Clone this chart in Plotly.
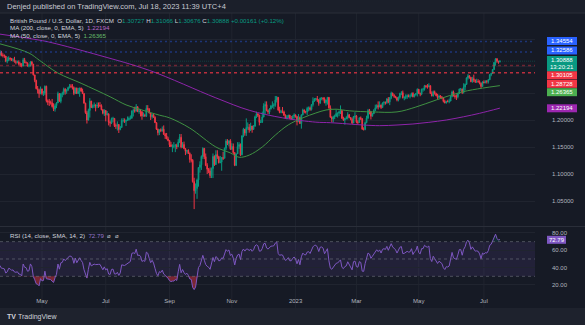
import numpy as np
import pandas as pd
import plotly.graph_objects as go

# ---------------- data (GBP/USD daily, FXCM) ----------------
start_date = "2022-02-28"
end_date = "2023-07-18"
first_open = 1.3405

closes = [
 1.3415,1.3285,1.3390,1.3345,1.3230, 1.3115,1.3165,1.3185,1.3095,1.3035,
 1.3035,1.3040,1.3145,1.3170,1.3180, 1.3200,1.3255,1.3200,1.3195,1.3185,
 1.3090,1.3105,1.3150,1.3140,1.3110, 1.3115,1.3075,1.3070,1.3075,1.3035,
 1.3030,1.3000,1.3115,1.3065,1.3060, 1.3000,1.3005,1.3075,1.3035,1.2835,
 1.2735,1.2580,1.2555,1.2485,1.2575, 1.2490,1.2495,1.2625,1.2355,1.2335,
 1.2330,1.2320,1.2250,1.2200,1.2265, 1.2315,1.2490,1.2345,1.2480,1.2490,
 1.2570,1.2530,1.2560,1.2600,1.2630, 1.2625,1.2600,1.2490,1.2590,1.2490,
 1.2530,1.2590,1.2535,1.2490,1.2310, 1.2135,1.2000,1.2175,1.2350,1.2230,
 1.2265,1.2275,1.2260,1.2270,1.2265, 1.2265,1.2190,1.2125,1.2175,1.2095,
 1.2115,1.1960,1.1945,1.2025,1.2030, 1.1895,1.1890,1.1915,1.1825,1.1860,
 1.1990,1.1990,1.1975,1.1990,1.2005, 1.2030,1.2035,1.2165,1.2175,1.2165,
 1.2245,1.2160,1.2165,1.2150,1.2075, 1.2085,1.2075,1.2215,1.2200,1.2130,
 1.2060,1.2095,1.2050,1.1950,1.1830, 1.1765,1.1820,1.1800,1.1830,1.1735,
 1.1705,1.1650,1.1620,1.1540,1.1510, 1.1515,1.1515,1.1530,1.1505,1.1590,
 1.1680,1.1500,1.1545,1.1470,1.1420, 1.1435,1.1380,1.1270,1.1255,1.0860,
 1.0690,1.0730,1.0890,1.1120,1.1170, 1.1325,1.1475,1.1320,1.1160,1.1090,
 1.1055,1.0970,1.1100,1.1325,1.1175, 1.1360,1.1320,1.1210,1.1220,1.1305,
 1.1290,1.1475,1.1610,1.1565,1.1615, 1.1465,1.1510,1.1395,1.1160,1.1375,
 1.1510,1.1545,1.1355,1.1705,1.1830, 1.1760,1.1860,1.1865,1.1815,1.1890,
 1.1825,1.1885,1.2060,1.2115,1.2090, 1.1955,1.1960,1.2055,1.2260,1.2285,
 1.2175,1.2150,1.2205,1.2260,1.2265, 1.2275,1.2370,1.2420,1.2185,1.2140,
 1.2155,1.2150,1.2085,1.2030,1.2050, 1.2090,1.2025,1.2025,1.2070,1.2095,
 1.2060,1.1970,1.2045,1.1935,1.2095, 1.2185,1.2155,1.2150,1.2215,1.2225,
 1.2195,1.2285,1.2350,1.2390,1.2395, 1.2370,1.2310,1.2405,1.2410,1.2395,
 1.2320,1.2370,1.2420,1.2225,1.2050, 1.2020,1.2055,1.2070,1.2120,1.2125,
 1.2150,1.2175,1.2030,1.2000,1.2030, 1.2040,1.2100,1.2045,1.2015,1.1945,
 1.2065,1.2075,1.1965,1.1955,1.2040, 1.2025,1.1830,1.1825,1.1950,1.2035,
 1.2175,1.2155,1.2070,1.2115,1.2175, 1.2225,1.2270,1.2240,1.2280,1.2230,
 1.2315,1.2330,1.2320,1.2390,1.2335, 1.2415,1.2500,1.2455,1.2440,1.2415,
 1.2370,1.2420,1.2490,1.2505,1.2410, 1.2415,1.2430,1.2450,1.2440,1.2445,
 1.2495,1.2430,1.2470,1.2490,1.2570, 1.2495,1.2480,1.2570,1.2570,1.2635,
 1.2620,1.2615,1.2635,1.2490,1.2445, 1.2525,1.2490,1.2450,1.2415,1.2445,
 1.2420,1.2410,1.2345,1.2315,1.2345, 1.2340,1.2350,1.2435,1.2520,1.2450,
 1.2435,1.2430,1.2490,1.2575,1.2575, 1.2510,1.2610,1.2660,1.2780,1.2820,
 1.2790,1.2710,1.2765,1.2740,1.2710, 1.2715,1.2710,1.2680,1.2620,1.2705,
 1.2690,1.2715,1.2710,1.2745,1.2840, 1.2860,1.2935,1.3065,1.3135,1.3090,
 1.30727,1.30888,
]

highs = [
 1.3440,1.3435,1.3400,1.3435,1.3355, 1.3240,1.3185,1.3200,1.3190,1.3120,
 1.3120,1.3065,1.3155,1.3215,1.3200, 1.3210,1.3295,1.3280,1.3235,1.3215,
 1.3185,1.3170,1.3180,1.3155,1.3145, 1.3145,1.3170,1.3105,1.3100,1.3105,
 1.3065,1.3055,1.3150,1.3150,1.3085, 1.3060,1.3035,1.3090,1.3095,1.3035,
 1.2830,1.2745,1.2630,1.2580,1.2620, 1.2580,1.2540,1.2640,1.2635,1.2380,
 1.2390,1.2360,1.2390,1.2310,1.2300, 1.2330,1.2525,1.2495,1.2500,1.2525,
 1.2600,1.2590,1.2565,1.2615,1.2665, 1.2665,1.2665,1.2620,1.2600,1.2600,
 1.2595,1.2600,1.2600,1.2580,1.2495, 1.2320,1.2170,1.2210,1.2405,1.2355,
 1.2290,1.2325,1.2290,1.2325,1.2325, 1.2330,1.2290,1.2200,1.2200,1.2125,
 1.2165,1.2110,1.1990,1.2045,1.2060, 1.2030,1.1935,1.1975,1.1925,1.1890,
 1.2030,1.2035,1.2030,1.2010,1.2065, 1.2065,1.2085,1.2180,1.2215,1.2245,
 1.2295,1.2255,1.2210,1.2205,1.2165, 1.2140,1.2115,1.2275,1.2275,1.2220,
 1.2120,1.2115,1.2120,1.2070,1.1960, 1.1840,1.1825,1.1845,1.1880,1.1900,
 1.1760,1.1760,1.1690,1.1625,1.1595, 1.1550,1.1590,1.1555,1.1560,1.1645,
 1.1740,1.1740,1.1590,1.1600,1.1455, 1.1445,1.1460,1.1400,1.1365,1.1275,
 1.0930,1.0825,1.0915,1.1125,1.1235, 1.1345,1.1495,1.1480,1.1380,1.1200,
 1.1110,1.1120,1.1120,1.1380,1.1345, 1.1440,1.1440,1.1335,1.1335,1.1310,
 1.1410,1.1490,1.1645,1.1645,1.1625, 1.1645,1.1570,1.1565,1.1405,1.1375,
 1.1590,1.1590,1.1565,1.1720,1.1855, 1.1830,1.2030,1.1955,1.1925,1.1950,
 1.1880,1.1905,1.2080,1.2155,1.2125, 1.2095,1.2005,1.2155,1.2310,1.2345,
 1.2345,1.2195,1.2220,1.2280,1.2345, 1.2310,1.2445,1.2445,1.2425,1.2245,
 1.2190,1.2240,1.2175,1.2105,1.2090, 1.2095,1.2095,1.2075,1.2085,1.2125,
 1.2100,1.2075,1.2110,1.2065,1.2105, 1.2210,1.2195,1.2170,1.2245,1.2250,
 1.2250,1.2290,1.2420,1.2405,1.2410, 1.2445,1.2385,1.2415,1.2415,1.2420,
 1.2420,1.2375,1.2425,1.2420,1.2270, 1.2070,1.2080,1.2100,1.2195,1.2140,
 1.2175,1.2270,1.2175,1.2060,1.2040, 1.2070,1.2145,1.2100,1.2055,1.2045,
 1.2075,1.2145,1.2090,1.1995,1.2050, 1.2065,1.2030,1.1865,1.1970,1.2080,
 1.2205,1.2205,1.2150,1.2130,1.2200, 1.2285,1.2290,1.2345,1.2345,1.2285,
 1.2325,1.2345,1.2340,1.2405,1.2425, 1.2425,1.2525,1.2505,1.2480,1.2445,
 1.2425,1.2435,1.2505,1.2535,1.2545, 1.2440,1.2475,1.2475,1.2475,1.2475,
 1.2505,1.2515,1.2480,1.2490,1.2585, 1.2570,1.2505,1.2580,1.2595,1.2650,
 1.2640,1.2665,1.2680,1.2625,1.2530, 1.2545,1.2545,1.2505,1.2485,1.2470,
 1.2460,1.2445,1.2425,1.2375,1.2355, 1.2375,1.2395,1.2445,1.2545,1.2545,
 1.2470,1.2475,1.2500,1.2580,1.2590, 1.2580,1.2680,1.2675,1.2790,1.2850,
 1.2830,1.2795,1.2800,1.2840,1.2750, 1.2765,1.2755,1.2735,1.2690,1.2715,
 1.2735,1.2735,1.2740,1.2760,1.2850, 1.2875,1.2945,1.3075,1.3145,1.3144,
 1.3095,1.31066,
]

lows = [
 1.3350,1.3270,1.3270,1.3330,1.3200, 1.3085,1.3090,1.3110,1.3085,1.3000,
 1.3005,1.3000,1.3030,1.3110,1.3105, 1.3140,1.3180,1.3180,1.3160,1.3150,
 1.3070,1.3050,1.3090,1.3100,1.3090, 1.3085,1.3065,1.3030,1.3050,1.3020,
 1.2985,1.2975,1.2995,1.3050,1.3045, 1.2990,1.2975,1.2990,1.3020,1.2825,
 1.2700,1.2570,1.2490,1.2410,1.2480, 1.2460,1.2445,1.2460,1.2325,1.2275,
 1.2260,1.2285,1.2230,1.2165,1.2155, 1.2220,1.2315,1.2340,1.2310,1.2420,
 1.2460,1.2470,1.2485,1.2535,1.2585, 1.2590,1.2565,1.2460,1.2485,1.2480,
 1.2480,1.2430,1.2520,1.2480,1.2305, 1.2115,1.1935,1.1990,1.2045,1.2225,
 1.2215,1.2225,1.2160,1.2220,1.2225, 1.2245,1.2180,1.2105,1.2075,1.1975,
 1.2085,1.1900,1.1875,1.1925,1.1960, 1.1870,1.1835,1.1805,1.1760,1.1810,
 1.1860,1.1955,1.1945,1.1890,1.1985, 1.1990,1.2005,1.2020,1.2065,1.2135,
 1.2155,1.2145,1.2115,1.2065,1.2005, 1.2060,1.2060,1.2055,1.2170,1.2120,
 1.2000,1.2025,1.2040,1.1945,1.1815, 1.1715,1.1720,1.1780,1.1785,1.1725,
 1.1650,1.1645,1.1605,1.1500,1.1500, 1.1405,1.1475,1.1405,1.1460,1.1510,
 1.1575,1.1475,1.1485,1.1460,1.1350, 1.1375,1.1370,1.1210,1.1215,1.0840,
 1.0350,1.0635,1.0540,1.0765,1.1025, 1.1075,1.1280,1.1275,1.1145,1.1000,
 1.1015,1.0925,1.0925,1.0925,1.1150, 1.1170,1.1280,1.1195,1.1200,1.1060,
 1.1260,1.1290,1.1440,1.1535,1.1510, 1.1445,1.1445,1.1370,1.1145,1.1150,
 1.1385,1.1465,1.1335,1.1345,1.1680, 1.1710,1.1705,1.1820,1.1765,1.1795,
 1.1765,1.1820,1.1875,1.2035,1.2055, 1.1900,1.1945,1.1945,1.2050,1.2110,
 1.2160,1.2110,1.2105,1.2195,1.2225, 1.2200,1.2245,1.2325,1.2170,1.2125,
 1.2125,1.2125,1.2085,1.2025,1.2010, 1.2045,1.2020,1.2005,1.2005,1.2025,
 1.2045,1.1900,1.1960,1.1925,1.1840, 1.2085,1.2125,1.2120,1.2090,1.2160,
 1.2170,1.2175,1.2250,1.2335,1.2355, 1.2335,1.2265,1.2305,1.2365,1.2360,
 1.2310,1.2265,1.2285,1.2210,1.2045, 1.1960,1.1955,1.2015,1.2060,1.2045,
 1.2070,1.2110,1.2025,1.1985,1.1915, 1.2010,1.2010,1.2035,1.1995,1.1925,
 1.1950,1.2025,1.1940,1.1925,1.1945, 1.2000,1.1820,1.1805,1.1810,1.1940,
 1.2015,1.2105,1.2010,1.2065,1.2110, 1.2165,1.2210,1.2195,1.2250,1.2205,
 1.2235,1.2270,1.2285,1.2300,1.2310, 1.2275,1.2385,1.2440,1.2410,1.2400,
 1.2345,1.2345,1.2395,1.2460,1.2400, 1.2365,1.2385,1.2390,1.2420,1.2400,
 1.2435,1.2420,1.2420,1.2450,1.2435, 1.2480,1.2440,1.2460,1.2525,1.2545,
 1.2595,1.2580,1.2605,1.2485,1.2440, 1.2435,1.2470,1.2440,1.2390,1.2395,
 1.2410,1.2385,1.2325,1.2310,1.2305, 1.2330,1.2310,1.2370,1.2420,1.2435,
 1.2395,1.2370,1.2400,1.2480,1.2535, 1.2480,1.2490,1.2550,1.2650,1.2750,
 1.2765,1.2700,1.2690,1.2700,1.2685, 1.2685,1.2690,1.2660,1.2590,1.2615,
 1.2680,1.2680,1.2675,1.2675,1.2740, 1.2810,1.2855,1.2925,1.3005,1.3060,
 1.3040,1.30676,
]

ma200_dates = ["2022-03-22","2022-04-28","2022-05-11","2022-06-27","2022-08-12",
               "2022-10-17","2022-11-17","2022-12-20","2023-01-20","2023-02-03",
               "2023-03-08","2023-03-23","2023-04-10","2023-04-25","2023-05-10",
               "2023-05-26","2023-06-13","2023-06-28","2023-07-18"]
ma200_vals = [1.3590,1.3480,1.3430,1.3194,1.2920,
              1.2410,1.2180,1.2040,1.1960,1.1950,
              1.1907,1.1895,1.1907,1.1926,1.1957,
              1.2000,1.2060,1.2124,1.22194]

ma50_dates = ["2022-03-22","2022-04-19","2022-04-28","2022-05-17","2022-06-08",
              "2022-07-06","2022-07-21","2022-08-05","2022-08-23","2022-09-01",
              "2022-09-21","2022-10-17","2022-10-31","2022-11-08","2022-11-17",
              "2022-11-30","2022-12-13","2022-12-26","2023-01-09","2023-01-20",
              "2023-01-31","2023-02-09","2023-02-22","2023-03-16","2023-04-10",
              "2023-04-27","2023-05-17","2023-06-12","2023-06-30","2023-07-18"]
ma50_vals = [1.3410,1.3240,1.3110,1.2870,1.2680,
             1.2430,1.2280,1.2185,1.2090,1.2040,
             1.1850,1.1500,1.1390,1.1310,1.1350,
             1.1500,1.1720,1.1910,1.2040,1.2130,
             1.2185,1.2200,1.2170,1.2150,1.2150,
             1.2240,1.2370,1.2520,1.2590,1.26365]

rsi_last_label = 72.79
countdown_label = "13:20:21"

drawn_levels_blue = [1.34554, 1.32586]
drawn_levels_red = [1.30105, 1.28728]

month_labels = [("2022-05","May"),("2022-07","Jul"),("2022-09","Sep"),("2022-11","Nov"),
                ("2023-01","2023"),("2023-03","Mar"),("2023-05","May"),("2023-07","Jul")]
price_ticks = [1.05, 1.10, 1.15, 1.20, 1.25, 1.30, 1.35]
price_tick_text = ["1.05000", "1.10000", "1.15000", "1.20000", "", "", ""]
rsi_ticks = [20, 40, 60, 80]
rsi_tick_text = ["20.00", "40.00", "60.00", "80.00"]

# ---------------- derived ----------------
dates = pd.bdate_range(start_date, end_date)
assert len(dates) == len(closes) == len(highs) == len(lows), (len(dates), len(closes), len(highs), len(lows))
idx = np.arange(len(dates))
opens = [first_open] + closes[:-1]

def to_idx(ds):
    return [int(dates.get_indexer([pd.Timestamp(d)], method="bfill")[0]) for d in ds]

# RSI(14) Wilder
c = np.array(closes)
d = np.diff(c)
up = np.where(d > 0, d, 0.0)
dn = np.where(d < 0, -d, 0.0)
n = 14
rsi = np.full(len(c), np.nan)
au, ad = up[:n].mean(), dn[:n].mean()
rsi[n] = 100 - 100 / (1 + au / ad)
for i in range(n + 1, len(c)):
    au = (au * (n - 1) + up[i - 1]) / n
    ad = (ad * (n - 1) + dn[i - 1]) / n
    rsi[i] = 100 - 100 / (1 + au / ad)

tickvals = []
for ym, _ in month_labels:
    m = np.where(dates.strftime("%Y-%m") == ym)[0]
    tickvals.append(int(m[0]))
ticktext = [t for _, t in month_labels]

# ---------------- layout geometry ----------------
W, H = 585, 325
def py(ypx):
    return (H - ypx) / H
BAR_PX = 1.449
x_plot_right = 535
x_lo = tickvals[0] - 42 / BAR_PX
x_hi = x_lo + x_plot_right / BAR_PX

BG = "#161a25"
GRID = "#20242f"
TXT = "#b2b5be"
UP = "#089981"
DN = "#F23645"
FONT = "Liberation Sans"

fig = go.Figure()
fig.add_trace(go.Candlestick(
    x=idx, open=opens, high=highs, low=lows, close=closes,
    increasing=dict(line=dict(color=UP, width=1), fillcolor=UP),
    decreasing=dict(line=dict(color=DN, width=1), fillcolor=DN),
    whiskerwidth=0, xaxis="x", yaxis="y", showlegend=False, hoverinfo="skip"))
fig.add_trace(go.Scatter(x=to_idx(ma200_dates), y=ma200_vals, mode="lines",
                         line=dict(color="#8e24aa", width=1, shape="spline"),
                         xaxis="x", yaxis="y", showlegend=False, hoverinfo="skip"))
fig.add_trace(go.Scatter(x=to_idx(ma50_dates), y=ma50_vals, mode="lines",
                         line=dict(color="#3f9142", width=1, shape="spline"),
                         xaxis="x", yaxis="y", showlegend=False, hoverinfo="skip"))

# RSI fills and line
fig.add_trace(go.Scatter(x=idx, y=np.full(len(c), 30.0), mode="lines", line=dict(width=0),
                         xaxis="x", yaxis="y2", showlegend=False, hoverinfo="skip"))
fig.add_trace(go.Scatter(x=idx, y=np.minimum(rsi, 30), mode="lines", line=dict(width=0),
                         fill="tonexty", fillcolor="rgba(242,54,69,0.45)",
                         xaxis="x", yaxis="y2", showlegend=False, hoverinfo="skip"))
fig.add_trace(go.Scatter(x=idx, y=np.full(len(c), 70.0), mode="lines", line=dict(width=0),
                         xaxis="x", yaxis="y2", showlegend=False, hoverinfo="skip"))
fig.add_trace(go.Scatter(x=idx, y=np.maximum(rsi, 70), mode="lines", line=dict(width=0),
                         fill="tonexty", fillcolor="rgba(8,153,129,0.15)",
                         xaxis="x", yaxis="y2", showlegend=False, hoverinfo="skip"))
fig.add_trace(go.Scatter(x=idx, y=rsi, mode="lines", line=dict(color="#7E57C2", width=1),
                         xaxis="x", yaxis="y2", showlegend=False, hoverinfo="skip"))

shapes = []
# header and footer bars
shapes.append(dict(type="rect", xref="paper", yref="paper", x0=0, x1=1, y0=py(13), y1=1,
                   fillcolor="#1b1f2a", line=dict(width=0), layer="below"))
shapes.append(dict(type="rect", xref="paper", yref="paper", x0=0, x1=1, y0=0, y1=py(308),
                   fillcolor="#1e222d", line=dict(width=0), layer="below"))
# vertical grid
for tv in tickvals:
    shapes.append(dict(type="line", xref="x", yref="paper", x0=tv, x1=tv, y0=py(308), y1=py(13),
                       line=dict(color=GRID, width=1), layer="below"))
# pane separators
shapes.append(dict(type="line", xref="paper", yref="paper", x0=0, x1=1, y0=py(226.5), y1=py(226.5),
                   line=dict(color="#2a2e39", width=1)))
shapes.append(dict(type="line", xref="paper", yref="paper", x0=0, x1=1, y0=py(13), y1=py(13),
                   line=dict(color="#2a2e39", width=1)))
# RSI band + levels
shapes.append(dict(type="rect", xref="paper", yref="y2", x0=0, x1=x_plot_right / W, y0=30, y1=70,
                   fillcolor="rgba(126,87,194,0.12)", line=dict(width=0), layer="below"))
for lv in (70, 50, 30):
    shapes.append(dict(type="line", xref="paper", yref="y2", x0=0, x1=x_plot_right / W, y0=lv, y1=lv,
                       line=dict(color="rgba(120,123,134,0.55)", width=1, dash="3px,3px")))
# drawn horizontal levels
for lv in drawn_levels_blue:
    shapes.append(dict(type="line", xref="paper", yref="y", x0=0, x1=x_plot_right / W, y0=lv, y1=lv,
                       line=dict(color="rgba(41,98,255,0.38)", width=1.5, dash="2px,3px")))
shapes.append(dict(type="line", xref="paper", yref="y", x0=0, x1=x_plot_right / W,
                   y0=drawn_levels_red[0], y1=drawn_levels_red[0],
                   line=dict(color="rgba(242,54,69,0.4)", width=1.5, dash="3px,3px")))
shapes.append(dict(type="line", xref="paper", yref="y", x0=0, x1=x_plot_right / W,
                   y0=drawn_levels_red[1], y1=drawn_levels_red[1],
                   line=dict(color="rgba(242,54,69,0.75)", width=1.5, dash="3px,3px")))
shapes.append(dict(type="line", xref="paper", yref="y", x0=0, x1=x_plot_right / W,
                   y0=closes[-1], y1=closes[-1],
                   line=dict(color="rgba(8,153,129,0.3)", width=1, dash="1px,1px")))

annotations = []
def text(xpx, ypx, s, size=6, color=TXT, anchor="left"):
    annotations.append(dict(xref="paper", yref="paper", x=xpx / W, y=py(ypx), text=s,
                            showarrow=False, xanchor=anchor, yanchor="middle",
                            font=dict(family=FONT, size=size, color=color)))

text(5, 6.5, "Denjed published on TradingView.com, Jul 18, 2023 11:39 UTC+4", size=7.5, color="#c8cad2")
g = lambda v: f"<span style='color:{UP}'>{v}</span>"
chg = closes[-1] - closes[-2]
text(8, 20, "British Pound / U.S. Dollar, 1D, FXCM  O" + g(f"{opens[-1]:.5f}") + " H" + g(f"{highs[-1]:.5f}")
     + " L" + g(f"{lows[-1]:.5f}") + " C" + g(f"{closes[-1]:.5f}") + " " + g(f"+{chg:.5f} (+{chg / closes[-2] * 100:.2f}%)"),
     size=6.2, color="#d1d4dc")
text(8, 28, f"MA (200, close, 0, EMA, 5)  <span style='color:#ba68c8'>{ma200_vals[-1]:.5f}</span>", size=6.2, color="#d1d4dc")
text(8, 36, f"MA (50, close, 0, EMA, 5)  <span style='color:#66bb6a'>{ma50_vals[-1]:.5f}</span>", size=6.2, color="#d1d4dc")
text(8, 235, f"RSI (14, close, SMA, 14, 2)  <span style='color:#9575cd'>{rsi_last_label:.2f}</span>  ⌀  ⌀", size=6.2, color="#d1d4dc")

# right-side price label boxes
def box(ycen, s, color, h=8, x0=547, x1=577):
    shapes.append(dict(type="rect", xref="paper", yref="paper", x0=x0 / W, x1=x1 / W,
                       y0=py(ycen + h / 2), y1=py(ycen - h / 2), fillcolor=color, line=dict(width=0)))
    text((x0 + x1) / 2, ycen, s, size=6, color="#ffffff", anchor="center")

box(41, f"{drawn_levels_blue[0]:.5f}", "#2962FF")
box(50.5, f"{drawn_levels_blue[1]:.5f}", "#2962FF")
shapes.append(dict(type="rect", xref="paper", yref="paper", x0=547 / W, x1=577 / W,
                   y0=py(71.5), y1=py(56), fillcolor=UP, line=dict(width=0)))
text(562, 60.3, f"{closes[-1]:.5f}", color="#ffffff", anchor="center")
text(562, 67.3, countdown_label, color="#ffffff", anchor="center")
box(75.3, f"{drawn_levels_red[0]:.5f}", DN)
box(83.8, f"{drawn_levels_red[1]:.5f}", DN)
box(92.2, f"{ma50_vals[-1]:.5f}", "#4CAF50")
box(108.3, f"{ma200_vals[-1]:.5f}", "#9C27B0")
box(239.8, f"{rsi_last_label:.2f}", "#7E57C2", x0=547, x1=566)

# footer logo
text(5, 316.5, "<b>TV</b>", size=7, color="#d1d4dc")
text(16, 316.5, "TradingView", size=7, color="#d1d4dc")

fig.update_layout(
    width=W, height=H, margin=dict(l=0, r=0, t=0, b=0),
    paper_bgcolor=BG, plot_bgcolor=BG,
    font=dict(family=FONT, size=6, color=TXT),
    showlegend=False, hovermode=False,
    xaxis=dict(domain=[0, x_plot_right / W], range=[x_lo, x_hi], anchor="y2",
               tickvals=tickvals, ticktext=ticktext, showgrid=False, zeroline=False,
               showline=False, ticks="", tickfont=dict(size=6, color=TXT),
               rangeslider=dict(visible=False), fixedrange=True),
    yaxis=dict(domain=[py(226), py(13)], range=[1.20 - 106 / 540, 1.20 + 107 / 540],
               side="right", anchor="x", tickvals=price_ticks, ticktext=price_tick_text,
               showgrid=True, gridcolor=GRID, gridwidth=1, zeroline=False, showline=False,
               ticks="", ticklabelstandoff=16, tickfont=dict(size=6, color=TXT)),
    yaxis2=dict(domain=[py(296), py(227)], range=[7.3, 86.9],
                side="right", anchor="x", tickvals=rsi_ticks, ticktext=rsi_tick_text,
                showgrid=True, gridcolor=GRID, gridwidth=1, zeroline=False, showline=False,
                ticks="", ticklabelstandoff=16, tickfont=dict(size=6, color=TXT)),
    shapes=shapes, annotations=annotations,
)

fig.write_html("out.html")
